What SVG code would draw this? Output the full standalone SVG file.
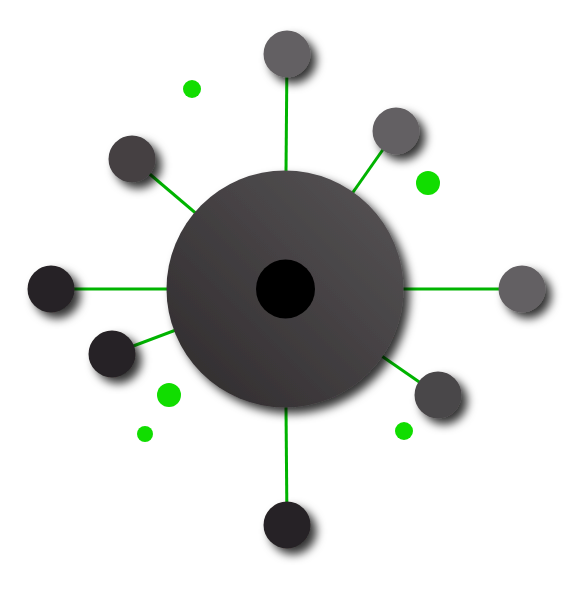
<svg xmlns="http://www.w3.org/2000/svg" width="583" height="600" viewBox="0 0 583 600">
<defs>
<filter id="sh" x="-50%" y="-50%" width="200%" height="200%">
<feDropShadow dx="6" dy="6" stdDeviation="5" flood-color="#000" flood-opacity="0.8"/>
</filter>
<linearGradient id="hub" x1="1" y1="0" x2="0" y2="1">
<stop offset="0" stop-color="#585557"/>
<stop offset="1" stop-color="#2e2a2c"/>
</linearGradient>
</defs>
<style>
.link{stroke:#00b400;stroke-width:3;fill:none}
.node{filter:url(#sh)}
.dot{fill:#11dd00}
.l{fill:#646163}.m{fill:#444043}.mm{fill:#4a4749}.d{fill:#282325}
</style>
<rect width="583" height="600" fill="#fff"/>
<g id="connectors">
<line class="link" x1="285" y1="289" x2="287" y2="54"/>
<line class="link" x1="285" y1="289" x2="396" y2="131"/>
<line class="link" x1="285" y1="289" x2="522" y2="289"/>
<line class="link" x1="285" y1="289" x2="438" y2="395"/>
<line class="link" x1="285" y1="289" x2="287" y2="525"/>
<line class="link" x1="285" y1="289" x2="112" y2="354"/>
<line class="link" x1="285" y1="289" x2="51" y2="289"/>
<line class="link" x1="285" y1="289" x2="132" y2="159"/>
</g>
<g id="dots">
<circle class="dot" cx="192" cy="89" r="9"/>
<circle class="dot" cx="428" cy="183" r="12"/>
<circle class="dot" cx="169" cy="395" r="12"/>
<circle class="dot" cx="145" cy="434" r="8"/>
<circle class="dot" cx="404" cy="431" r="9"/>
</g>
<g id="n-top" class="node"><circle class="l" cx="287" cy="54" r="23.5"/></g>
<g id="n-topright" class="node"><circle class="l" cx="396" cy="131" r="23.5"/></g>
<g id="n-right" class="node"><circle class="l" cx="522" cy="289" r="23.5"/></g>
<g id="n-bottomright" class="node"><circle class="mm" cx="438" cy="395" r="23.5"/></g>
<g id="n-bottom" class="node"><circle class="d" cx="287" cy="525" r="23.5"/></g>
<g id="n-bottomleft" class="node"><circle class="d" cx="112" cy="354" r="23.5"/></g>
<g id="n-left" class="node"><circle class="d" cx="51" cy="289" r="23.5"/></g>
<g id="n-topleft" class="node"><circle class="m" cx="132" cy="159" r="23.5"/></g>
<g id="hub-node">
<circle cx="285" cy="289" r="118.5" fill="url(#hub)" filter="url(#sh)"/>
<circle cx="285.5" cy="289" r="29.5" fill="#000"/>
</g>
</svg>
